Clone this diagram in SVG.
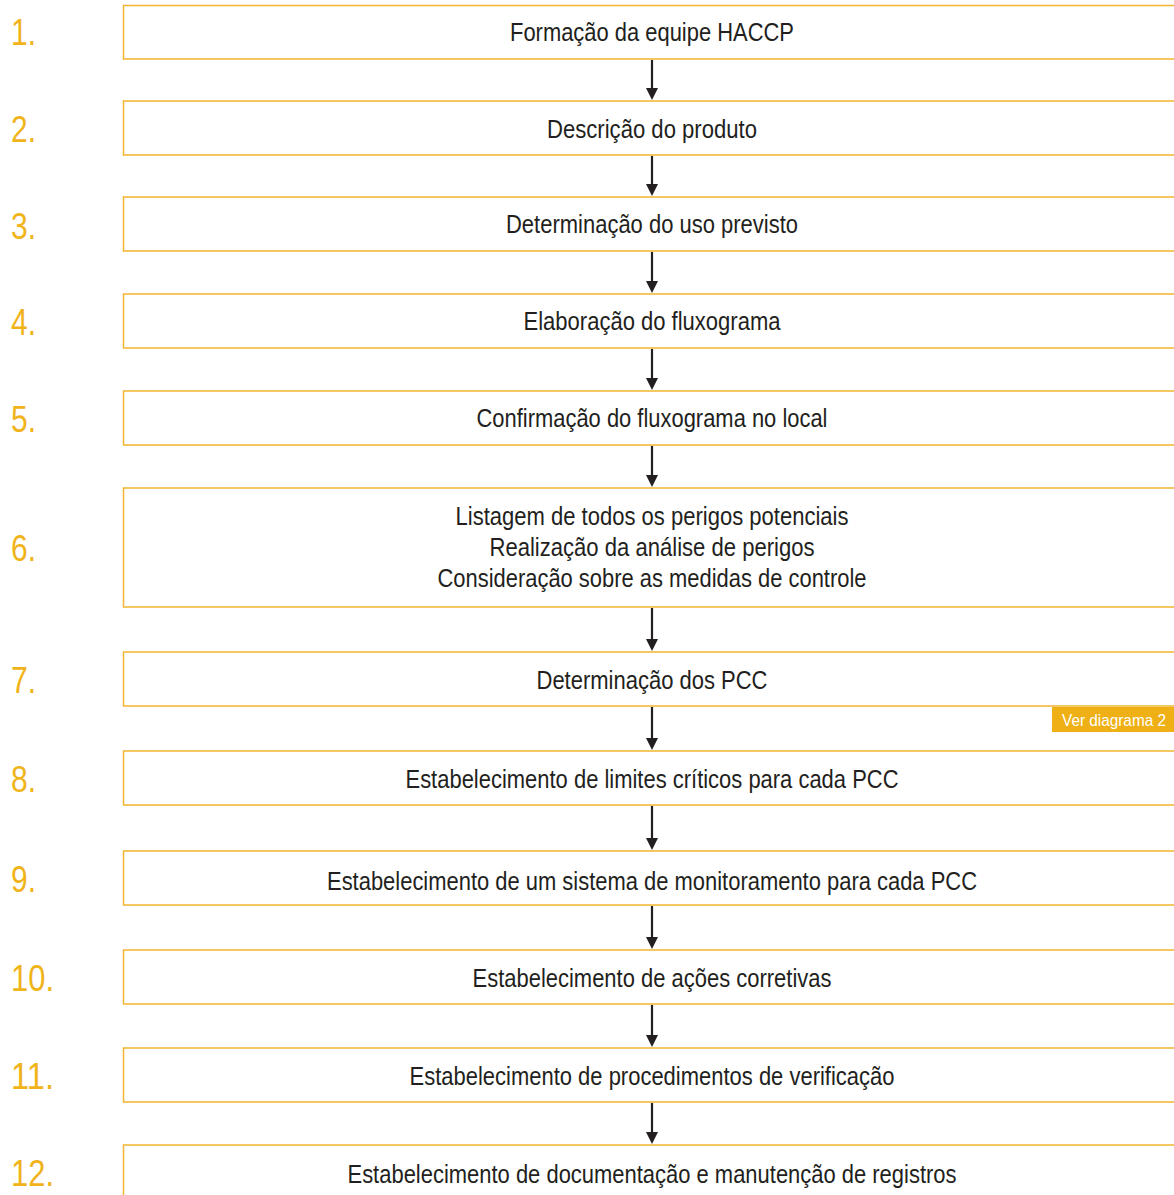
<svg xmlns="http://www.w3.org/2000/svg" width="1174" height="1195" viewBox="0 0 1174 1195">
<defs>
<style>
.box{fill:#fff;stroke:#F2B531;stroke-width:1.5}
.t{font-family:"Liberation Sans",Arial,sans-serif;font-size:25px;fill:#231F20;text-anchor:middle}
.n{font-family:"Liberation Sans",Arial,sans-serif;font-size:37px;fill:#F0B41A}
.c{stroke:#231F20;stroke-width:2.2;fill:none}
</style>
</defs>
<rect width="1174" height="1195" fill="#fff"/>
<g id="connectors">
<line class="c" x1="652" y1="60" x2="652" y2="89"/>
<line class="c" x1="652" y1="156" x2="652" y2="185"/>
<line class="c" x1="652" y1="252" x2="652" y2="282"/>
<line class="c" x1="652" y1="349" x2="652" y2="379"/>
<line class="c" x1="652" y1="446" x2="652" y2="476"/>
<line class="c" x1="652" y1="608" x2="652" y2="640"/>
<line class="c" x1="652" y1="707" x2="652" y2="739"/>
<line class="c" x1="652" y1="806" x2="652" y2="839"/>
<line class="c" x1="652" y1="906" x2="652" y2="938"/>
<line class="c" x1="652" y1="1005" x2="652" y2="1036"/>
<line class="c" x1="652" y1="1103" x2="652" y2="1133"/>
<g fill="#231F20">
<path d="M646,88 L658,88 L652,100 Z"/>
<path d="M646,184 L658,184 L652,196 Z"/>
<path d="M646,281 L658,281 L652,293 Z"/>
<path d="M646,378 L658,378 L652,390 Z"/>
<path d="M646,475 L658,475 L652,487 Z"/>
<path d="M646,639 L658,639 L652,651 Z"/>
<path d="M646,738 L658,738 L652,750 Z"/>
<path d="M646,838 L658,838 L652,850 Z"/>
<path d="M646,937 L658,937 L652,949 Z"/>
<path d="M646,1035 L658,1035 L652,1047 Z"/>
<path d="M646,1132 L658,1132 L652,1144 Z"/>
</g>
</g>
<g id="step1"><path class="box" d="M1175,5.5 H123.5 V59 H1175"/><text class="n" x="11" y="45" textLength="25" lengthAdjust="spacingAndGlyphs">1.</text><text class="t" x="652" y="41" textLength="284" lengthAdjust="spacingAndGlyphs">Formação da equipe HACCP</text></g>
<g id="step2"><path class="box" d="M1175,101 H123.5 V155 H1175"/><text class="n" x="11" y="142" textLength="25" lengthAdjust="spacingAndGlyphs">2.</text><text class="t" x="652" y="138" textLength="210" lengthAdjust="spacingAndGlyphs">Descrição do produto</text></g>
<g id="step3"><path class="box" d="M1175,197 H123.5 V251 H1175"/><text class="n" x="11" y="239" textLength="25" lengthAdjust="spacingAndGlyphs">3.</text><text class="t" x="652" y="233" textLength="292" lengthAdjust="spacingAndGlyphs">Determinação do uso previsto</text></g>
<g id="step4"><path class="box" d="M1175,294 H123.5 V348 H1175"/><text class="n" x="11" y="335" textLength="25" lengthAdjust="spacingAndGlyphs">4.</text><text class="t" x="652" y="330" textLength="257" lengthAdjust="spacingAndGlyphs">Elaboração do fluxograma</text></g>
<g id="step5"><path class="box" d="M1175,391 H123.5 V445 H1175"/><text class="n" x="11" y="432" textLength="25" lengthAdjust="spacingAndGlyphs">5.</text><text class="t" x="652" y="427" textLength="351" lengthAdjust="spacingAndGlyphs">Confirmação do fluxograma no local</text></g>
<g id="step6"><path class="box" d="M1175,488 H123.5 V607 H1175"/><text class="n" x="11" y="561" textLength="25" lengthAdjust="spacingAndGlyphs">6.</text><text class="t" x="652" y="525" textLength="393" lengthAdjust="spacingAndGlyphs">Listagem de todos os perigos potenciais</text><text class="t" x="652" y="556" textLength="325" lengthAdjust="spacingAndGlyphs">Realização da análise de perigos</text><text class="t" x="652" y="587" textLength="429" lengthAdjust="spacingAndGlyphs">Consideração sobre as medidas de controle</text></g>
<g id="step7"><path class="box" d="M1175,652 H123.5 V706 H1175"/><text class="n" x="11" y="693" textLength="25" lengthAdjust="spacingAndGlyphs">7.</text><text class="t" x="652" y="689" textLength="231" lengthAdjust="spacingAndGlyphs">Determinação dos PCC</text></g>
<g id="note"><rect x="1052" y="707" width="122" height="25" fill="#EEB014"/><text x="1114" y="726" font-family="'Liberation Sans',Arial,sans-serif" font-size="17" fill="#fff" text-anchor="middle" textLength="104" lengthAdjust="spacingAndGlyphs">Ver diagrama 2</text></g>
<g id="step8"><path class="box" d="M1175,751 H123.5 V805 H1175"/><text class="n" x="11" y="792" textLength="25" lengthAdjust="spacingAndGlyphs">8.</text><text class="t" x="652" y="788" textLength="493" lengthAdjust="spacingAndGlyphs">Estabelecimento de limites críticos para cada PCC</text></g>
<g id="step9"><path class="box" d="M1175,851 H123.5 V905 H1175"/><text class="n" x="11" y="892" textLength="25" lengthAdjust="spacingAndGlyphs">9.</text><text class="t" x="652" y="890" textLength="650" lengthAdjust="spacingAndGlyphs">Estabelecimento de um sistema de monitoramento para cada PCC</text></g>
<g id="step10"><path class="box" d="M1175,950 H123.5 V1004 H1175"/><text class="n" x="11" y="991" textLength="43" lengthAdjust="spacingAndGlyphs">10.</text><text class="t" x="652" y="987" textLength="359" lengthAdjust="spacingAndGlyphs">Estabelecimento de ações corretivas</text></g>
<g id="step11"><path class="box" d="M1175,1048 H123.5 V1102 H1175"/><text class="n" x="11" y="1089" textLength="43" lengthAdjust="spacingAndGlyphs">11.</text><text class="t" x="652" y="1085" textLength="485" lengthAdjust="spacingAndGlyphs">Estabelecimento de procedimentos de verificação</text></g>
<g id="step12"><path class="box" d="M1175,1145 H123.5 V1196"/><text class="n" x="11" y="1186" textLength="43" lengthAdjust="spacingAndGlyphs">12.</text><text class="t" x="652" y="1183" textLength="609" lengthAdjust="spacingAndGlyphs">Estabelecimento de documentação e manutenção de registros</text></g>
</svg>
